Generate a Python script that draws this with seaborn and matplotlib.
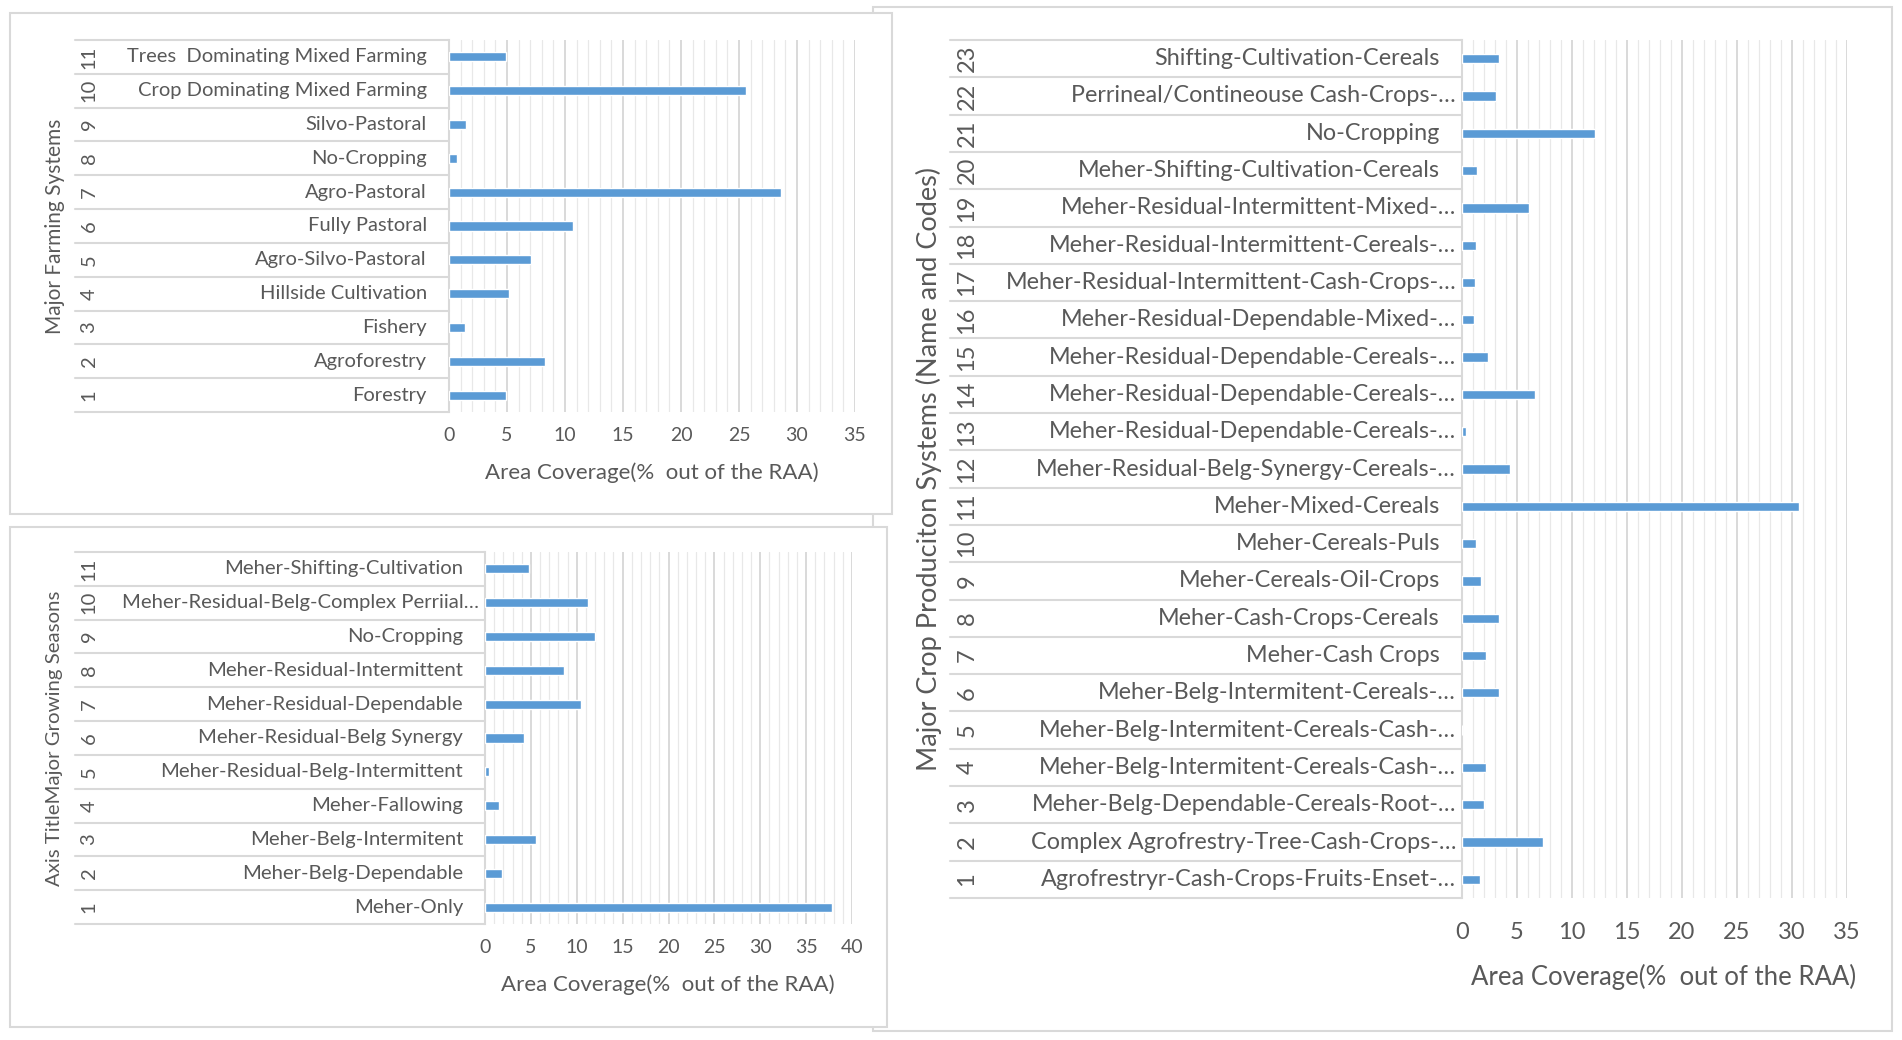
import numpy as np
import pandas as pd
import matplotlib
matplotlib.use("Agg")
import matplotlib.pyplot as plt
import matplotlib.transforms as mtransforms
from matplotlib.patches import Rectangle
from matplotlib.lines import Line2D
from matplotlib.ticker import MultipleLocator
import seaborn as sns

W, H = 1902, 1040
BLUE = "#5b9bd5"
TXT = "#595959"
LINE = "#d9d9d9"

# ----- Farming systems (top left) -----
farm_codes = [str(i) for i in range(1, 12)]
farm_names = ["Forestry", "Agroforestry", "Fishery", "Hillside Cultivation",
              "Agro-Silvo-Pastoral", "Fully Pastoral", "Agro-Pastoral",
              "No-Cropping", "Silvo-Pastoral", "Crop Dominating Mixed Farming",
              "Trees  Dominating Mixed Farming"]
farm_values = [4.9, 8.3, 1.4, 5.2, 7.1, 10.7, 28.6, 0.7, 1.5, 25.6, 4.9]

# ----- Growing seasons (bottom left) -----
season_codes = [str(i) for i in range(1, 12)]
season_names = ["Meher-Only", "Meher-Belg-Dependable", "Meher-Belg-Intermitent",
                "Meher-Fallowing", "Meher-Residual-Belg-Intermittent",
                "Meher-Residual-Belg Synergy", "Meher-Residual-Dependable",
                "Meher-Residual-Intermittent", "No-Cropping",
                "Meher-Residual-Belg-Complex Perriial…", "Meher-Shifting-Cultivation"]
season_values = [37.8, 1.8, 5.6, 1.5, 0.4, 4.3, 10.5, 8.6, 12.0, 11.2, 4.8]

# ----- Crop production systems (right) -----
crop_codes = [str(i) for i in range(1, 24)]
crop_names = ["Agrofrestryr-Cash-Crops-Fruits-Enset-…",
              "Complex Agrofrestry-Tree-Cash-Crops-…",
              "Meher-Belg-Dependable-Cereals-Root-…",
              "Meher-Belg-Intermitent-Cereals-Cash-…",
              "Meher-Belg-Intermitent-Cereals-Cash-…",
              "Meher-Belg-Intermitent-Cereals-…",
              "Meher-Cash Crops",
              "Meher-Cash-Crops-Cereals",
              "Meher-Cereals-Oil-Crops",
              "Meher-Cereals-Puls",
              "Meher-Mixed-Cereals",
              "Meher-Residual-Belg-Synergy-Cereals-…",
              "Meher-Residual-Dependable-Cereals-…",
              "Meher-Residual-Dependable-Cereals-…",
              "Meher-Residual-Dependable-Cereals-…",
              "Meher-Residual-Dependable-Mixed-…",
              "Meher-Residual-Intermittent-Cash-Crops-…",
              "Meher-Residual-Intermittent-Cereals-…",
              "Meher-Residual-Intermittent-Mixed-…",
              "Meher-Shifting-Cultivation-Cereals",
              "No-Cropping",
              "Perrineal/Contineouse Cash-Crops-…",
              "Shifting-Cultivation-Cereals"]
crop_values = [1.6, 7.4, 2.0, 2.2, 0.0, 3.4, 2.2, 3.4, 1.7, 1.3, 30.6, 4.4, 0.4,
               6.6, 2.4, 1.1, 1.2, 1.3, 6.1, 1.4, 12.1, 3.1, 3.4]

sns.set_theme(style="white")
plt.rcParams["font.family"] = ["Lato", "DejaVu Sans"]

fig = plt.figure(figsize=(W / 100, H / 100), dpi=100)
fig.patch.set_facecolor("white")


def frame(x0, y0, x1, y1, z):
    # chart-area border, pixel coords from top-left
    r = Rectangle((x0 / W, 1 - y1 / H), (x1 - x0) / W, (y1 - y0) / H,
                  transform=fig.transFigure, facecolor="white",
                  edgecolor=LINE, linewidth=1.5, zorder=z)
    fig.add_artist(r)


def panel(box, codes, names, values, xmax, lab_x, num_x, ylabel, ylab_x,
          xlabel_pos, fs, fs_num, fs_tick, fs_ylab, fs_xlab, tick_pad, bar_w):
    l, t, r, b = box
    ax = fig.add_axes([l / W, 1 - b / H, (r - l) / W, (b - t) / H])
    ax.set_zorder(5)
    ax.patch.set_alpha(0)
    df = pd.DataFrame({"code": codes, "name": names, "value": values})
    order = codes[::-1]
    sns.barplot(data=df, x="value", y="code", order=order, orient="h",
                color=BLUE, saturation=1, width=bar_w, ax=ax, zorder=3)
    ax.set_xlim(0, xmax)
    ax.set_ylim(len(codes) - 0.5, -0.5)
    ax.xaxis.set_major_locator(MultipleLocator(5))
    ax.xaxis.set_minor_locator(MultipleLocator(1))
    ax.grid(axis="x", which="major", color="#d0d0d0", linewidth=1.1, zorder=0)
    ax.grid(axis="x", which="minor", color="#e8e8e8", linewidth=0.9, zorder=0)
    ax.set_axisbelow(True)
    for s in ["top", "right", "bottom"]:
        ax.spines[s].set_visible(False)
    ax.spines["left"].set_color(LINE)
    ax.spines["left"].set_linewidth(1.5)
    ax.tick_params(axis="x", which="both", length=0, labelsize=fs_tick,
                   labelcolor=TXT, pad=tick_pad)
    ax.tick_params(axis="y", length=0)
    ax.set_yticklabels([])
    ax.set_ylabel("")
    ax.set_xlabel("")

    trans = mtransforms.blended_transform_factory(fig.transFigure, ax.transData)
    x_start = lab_x / W
    x_axis = l / W
    # row separators across the category label area
    for i in range(len(codes) + 1):
        ax.add_line(Line2D([x_start, x_axis], [i - 0.5, i - 0.5], transform=trans,
                           color=LINE, linewidth=1.5, clip_on=False))
    for i, code in enumerate(order):
        name = df.loc[df["code"] == code, "name"].iloc[0]
        end = l - (6 if name.endswith("…") else 22)
        ax.text(end / W, i, name, transform=trans, ha="right", va="center",
                fontsize=fs, color=TXT, clip_on=False)
        ax.text(num_x / W, i, code, transform=trans, ha="center", va="center",
                rotation=90, fontsize=fs_num, color=TXT, clip_on=False)

    fig.text(ylab_x / W, 1 - (t + b) / 2 / H, ylabel, rotation=90, ha="center",
             va="center", fontsize=fs_ylab, color=TXT, zorder=6)
    fig.text(xlabel_pos[0] / W, 1 - xlabel_pos[1] / H,
             "Area Coverage(%  out of the RAA)",
             ha="center", va="center", fontsize=fs_xlab, color=TXT, zorder=6)
    return ax


frame(873, 7, 1892, 1031, 1)
frame(10, 13, 892, 514, 2)
frame(10, 527, 887, 1027, 2)

panel((449, 40, 855, 412), farm_codes, farm_names, farm_values, 35,
      75, 89, "Major Farming Systems", 55, (652, 473),
      14.5, 14.5, 14, 15, 16, 11, 0.27)
panel((485, 552, 852, 924), season_codes, season_names, season_values, 40,
      75, 89, "Axis TitleMajor Growing Seasons", 55, (668, 985),
      14.6, 14.5, 14, 14.7, 16, 11, 0.27)
panel((1462, 40, 1847, 898), crop_codes, crop_names, crop_values, 35,
      950, 967, "Major Crop Produciton Systems (Name and Codes)", 929, (1664, 977),
      16.8, 17, 17, 19.5, 18.5, 17, 0.25)

fig.savefig("out.png", dpi=100, facecolor="white")
